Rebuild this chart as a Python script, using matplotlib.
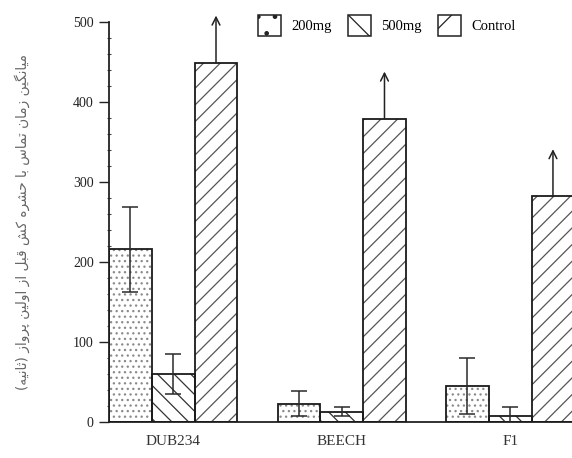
import matplotlib
matplotlib.use("Agg")
import matplotlib.pyplot as plt
from matplotlib.patches import Patch
import numpy as np

plt.rcParams['font.family'] = ['Liberation Serif', 'DejaVu Serif']
plt.rcParams['hatch.linewidth'] = 0.9

# data
groups = ['DUB234', 'BEECH', 'F1']
dose_200 = [216, 23, 45]
err_200 = [53, 16, 35]
dose_500 = [60, 13, 8]
err_500 = [25, 6, 11]
control = [449, 379, 282]
series_names = ['200mg', '500mg', 'Control']
ylabel_fa = 'میانگین زمان تماس با حشره کش قبل از اولین پرواز (ثانیه)'

# simple persian shaping (matplotlib has no text shaping)
FORMS = {
    'ا': ('\uFE8D', '\uFE8E', None, None),
    'ب': ('\uFE8F', '\uFE90', '\uFE91', '\uFE92'),
    'پ': ('\uFB56', '\uFB57', '\uFB58', '\uFB59'),
    'ت': ('\uFE95', '\uFE96', '\uFE97', '\uFE98'),
    'ث': ('\uFE99', '\uFE9A', '\uFE9B', '\uFE9C'),
    'ح': ('\uFEA1', '\uFEA2', '\uFEA3', '\uFEA4'),
    'ر': ('\uFEAD', '\uFEAE', None, None),
    'ز': ('\uFEAF', '\uFEB0', None, None),
    'س': ('\uFEB1', '\uFEB2', '\uFEB3', '\uFEB4'),
    'ش': ('\uFEB5', '\uFEB6', '\uFEB7', '\uFEB8'),
    'ق': ('\uFED5', '\uFED6', '\uFED7', '\uFED8'),
    'ک': ('\uFB8E', '\uFB8F', '\uFB90', '\uFB91'),
    'گ': ('\uFB92', '\uFB93', '\uFB94', '\uFB95'),
    'ل': ('\uFEDD', '\uFEDE', '\uFEDF', '\uFEE0'),
    'م': ('\uFEE1', '\uFEE2', '\uFEE3', '\uFEE4'),
    'ن': ('\uFEE5', '\uFEE6', '\uFEE7', '\uFEE8'),
    'و': ('\uFEED', '\uFEEE', None, None),
    'ه': ('\uFEE9', '\uFEEA', '\uFEEB', '\uFEEC'),
    'ی': ('\uFBFC', '\uFBFD', '\uFBFE', '\uFBFF'),
}


def shape_fa(text):
    out = []
    for i, ch in enumerate(text):
        if ch not in FORMS:
            out.append(ch)
            continue
        prev = text[i - 1] if i > 0 else ''
        nxt = text[i + 1] if i + 1 < len(text) else ''
        iso, fin, ini, med = FORMS[ch]
        jp = prev in FORMS and FORMS[prev][2] is not None
        jn = ini is not None and nxt in FORMS
        if jp and jn:
            out.append(med)
        elif jp:
            out.append(fin)
        elif jn:
            out.append(ini)
        else:
            out.append(iso)
    vis = ''.join(out)[::-1]
    return vis.translate(str.maketrans('()', ')('))


fig = plt.figure(figsize=(5.72, 4.58), dpi=100)
ax = fig.add_axes([0.1906, 0.0786, 0.8094, 0.8734])

x = np.arange(len(groups))
w = 0.254
offsets = [-w, 0, w]
hatches = ['...', '\\\\', '//']
hatch_cols = ['#8a8a8a', '#333333', '#555555']
values = [dose_200, dose_500, control]
errors = [err_200, err_500, None]

for k in range(3):
    ax.bar(x + offsets[k], values[k], w, color='white', hatch=hatches[k],
           edgecolor=hatch_cols[k], linewidth=0, zorder=2)
    ax.bar(x + offsets[k], values[k], w, fill=False, edgecolor='#1a1a1a',
           linewidth=1.3, zorder=3)
    if errors[k] is not None:
        ax.errorbar(x + offsets[k], values[k], yerr=errors[k], fmt='none',
                    ecolor='#2a2a2a', elinewidth=1.1, capsize=6, capthick=1.1,
                    zorder=4)

# open arrows above control bars
for xi, v in zip(x + offsets[2], control):
    ax.annotate('', xy=(xi, v), xytext=(0, 34), textcoords='offset points',
                arrowprops=dict(arrowstyle='<-', color='#222222', lw=1.1,
                                mutation_scale=14, shrinkA=0, shrinkB=0),
                annotation_clip=False)

ax.set_xlim(-0.381, 2.367)
ax.set_ylim(0, 500)
ax.set_xticks(x)
ax.set_xticklabels(groups, fontsize=11, color='#333333')
ax.tick_params(axis='x', length=0, pad=9)
ax.set_yticks(np.arange(0, 501, 100))
ax.set_yticks(np.arange(0, 501, 20), minor=True)
ax.tick_params(axis='y', which='major', direction='out', length=7, width=1,
               labelsize=10, colors='#222222', pad=4)
ax.tick_params(axis='y', which='minor', direction='inout', length=3, width=0.8,
               colors='#444444')

for s in ['top', 'right']:
    ax.spines[s].set_visible(False)
for s in ['left', 'bottom']:
    ax.spines[s].set_linewidth(1.3)
    ax.spines[s].set_color('#222222')

fig.text(0.038, 0.515, shape_fa(ylabel_fa), rotation=90, ha='center',
         va='center', fontsize=9.8, color='#666666', family=['DejaVu Sans'])

# legend
handles = [Patch(facecolor='white', edgecolor='#222222', hatch=h, linewidth=1.1)
           for h in ['.', '\\', '/']]
fig.legend(handles, series_names, loc='upper left',
           bbox_to_anchor=(258 / 572, 1 - 15 / 458), ncol=3, frameon=False,
           fontsize=10.5, handlelength=1.6, handleheight=1.8,
           handletextpad=0.7, columnspacing=1.1, borderpad=0, borderaxespad=0)

fig.savefig('out.png', dpi=100)
